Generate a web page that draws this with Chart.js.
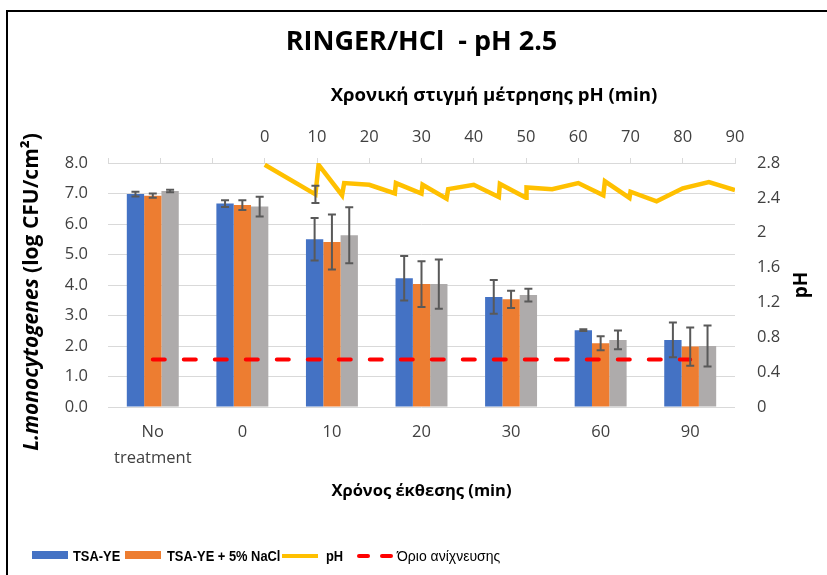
<!DOCTYPE html>
<html>
<head>
<meta charset="utf-8">
<script src="https://cdn.jsdelivr.net/npm/chart.js@4"></script>
<style>
  html, body { margin: 0; padding: 0; background: #fff; width: 827px; height: 575px; overflow: hidden; }
  .layer { position: absolute; left: 0; top: 0; width: 827px; height: 575px; }
  #frame { position: absolute; left: 6px; top: 10px; width: 900px; height: 700px; border: 2px solid #000; pointer-events: none; }
  .lg { position: absolute; }
  .lg-box { height: 8px; width: 36px; top: 551px; }
  .lg-text { top: 546px; line-height: 20px; font-family: "Liberation Sans", Arial, sans-serif; font-size: 14px; color: #000; white-space: nowrap; transform-origin: left center; }
  .lg-text.b { font-weight: bold; transform: scaleX(0.92); }
</style>
</head>
<body>
<!-- bars, detection limit and bottom/left axes -->
<div class="layer"><canvas id="counts" width="827" height="575"></canvas></div>
<!-- pH trace with its own top/right axes, laid over the same plot area -->
<div class="layer"><canvas id="ph" width="827" height="575"></canvas></div>

<!-- legend -->
<div class="lg lg-box" style="left:32px;background:#4472C4"></div>
<div class="lg lg-text b" style="left:73px">TSA-YE</div>
<div class="lg lg-box" style="left:125px;background:#ED7D31"></div>
<div class="lg lg-text b" style="left:167px">TSA-YE + 5% NaCl</div>
<div class="lg" style="left:282px;top:554px;width:36px;height:4px;background:#FFC000"></div>
<div class="lg lg-text b" style="left:326px">pH</div>
<div class="lg" style="left:357px;top:554px;width:13px;height:4px;background:#FF0000;border-radius:2px"></div>
<div class="lg" style="left:380px;top:554px;width:13px;height:4px;background:#FF0000;border-radius:2px"></div>
<div class="lg lg-text" style="left:397px">Όριο ανίχνευσης</div>

<div id="frame"></div>

<script>
// Exposure times (bottom axis)
const categories = [['No', 'treatment'], '0', '10', '20', '30', '60', '90'];

// log CFU/cm² per medium, with standard deviations
const tsaYe      = [6.98, 6.67, 5.50, 4.22, 3.61, 2.52, 2.20];
const tsaYeErr   = [0.08, 0.11, 0.70, 0.73, 0.55, 0.03, 0.57];
const tsaNaCl    = [6.93, 6.62, 5.41, 4.03, 3.53, 2.09, 1.98];
const tsaNaClErr = [0.07, 0.16, 0.90, 0.75, 0.28, 0.23, 0.63];
const series3    = [7.08, 6.57, 5.63, 4.03, 3.67, 2.20, 2.00];
const series3Err = [0.04, 0.32, 0.92, 0.81, 0.21, 0.31, 0.67];

// Detection limit (log CFU/cm²)
const detectionLimit = 1.56;

// pH readings over time (top axis, min)
const phTime   = [0, 9.7, 10.3, 14.8, 15.2, 20, 24.9, 25.1, 30, 30.2, 34.8, 35.1, 40, 44.8, 45, 50, 50.1, 55, 60, 64.8, 65.1, 69.8, 70, 75, 80, 85, 90];
const phValues = [2.78, 2.44, 2.78, 2.43, 2.57, 2.55, 2.45, 2.57, 2.45, 2.55, 2.39, 2.50, 2.55, 2.41, 2.56, 2.40, 2.52, 2.50, 2.57, 2.43, 2.59, 2.40, 2.47, 2.36, 2.51, 2.58, 2.49];
const phErr    = [0, 0.10, 0, 0, 0, 0, 0, 0, 0, 0, 0, 0, 0, 0, 0, 0, 0, 0, 0, 0, 0, 0, 0, 0, 0, 0, 0];

// Axis ranges
const countAxis = { min: 0, max: 8, step: 1 };
const phAxis    = { min: 0, max: 2.8, step: 0.4 };
const timeAxis  = { min: -30, max: 90, step: 10 };

const mainTitle       = 'RINGER/HCl  - pH 2.5';
const topTitle        = 'Χρονική στιγμή μέτρησης pH (min)';
const bottomTitle     = 'Χρόνος έκθεσης (min)';
const leftTitleItalic = 'L.monocytogenes';
const leftTitleRest   = ' (log CFU/cm²)';
const rightTitle      = 'pH';

const FAM = '"Open Sans", sans-serif';
const tickColor = '#404040';
const gridColor = '#D9D9D9';
const tickFont = { family: FAM, size: 16.5 };

// Shared frame: both canvases put the plot area at the same place
const TITLE_BLOCK = 54.5;   // main title band
const TOP_AXIS = 108.5;     // top axis band
const BOTTOM_AXIS = 120;    // category labels + title
const LEGEND_BAND = 48;
const LEFT_PAD = 15;
const LEFT_AXIS = 93;
const RIGHT_AXIS = 92;

// Error whiskers for any dataset carrying an `errors` array
const errorBars = {
  id: 'errorBars',
  afterDatasetsDraw(chart) {
    const ctx = chart.ctx;
    const cap = 4;
    ctx.save();
    ctx.strokeStyle = '#595959';
    ctx.lineWidth = 2;
    const draw = (x, yA, yB) => {
      ctx.beginPath();
      ctx.moveTo(x, yA); ctx.lineTo(x, yB);
      ctx.moveTo(x - cap, yA); ctx.lineTo(x + cap, yA);
      ctx.moveTo(x - cap, yB); ctx.lineTo(x + cap, yB);
      ctx.stroke();
    };
    chart.data.datasets.forEach((ds, di) => {
      if (!ds.errors) return;
      const meta = chart.getDatasetMeta(di);
      const ys = chart.scales[meta.yAxisID];
      meta.data.forEach((el, i) => {
        const e = ds.errors[i];
        if (!e) return;
        const v = typeof ds.data[i] === 'object' ? ds.data[i].y : ds.data[i];
        draw(el.x, ys.getPixelForValue(v + e), ys.getPixelForValue(v - e));
      });
    });
    ctx.restore();
  }
};

// Titles drawn by hand: the left one mixes italic and upright text,
// the top-axis one sits right of the plot centre
const chartTitles = {
  id: 'chartTitles',
  afterDraw(chart) {
    const ctx = chart.ctx;
    const area = chart.chartArea;
    const cy = (area.top + area.bottom) / 2;

    ctx.save();
    ctx.fillStyle = '#000';
    ctx.textBaseline = 'middle';
    ctx.textAlign = 'center';
    ctx.font = 'bold 27px ' + FAM;
    ctx.fillText(mainTitle, 421.5, 42);
    ctx.font = 'bold 18.6px ' + FAM;
    ctx.fillText(topTitle, 494, 96);
    ctx.restore();

    ctx.save();
    ctx.fillStyle = '#000';
    ctx.textBaseline = 'middle';
    ctx.textAlign = 'left';
    ctx.translate(32, cy + 7);
    ctx.rotate(-Math.PI / 2);
    const fItalic = 'italic bold 21px ' + FAM;
    const fUp = 'bold 21px ' + FAM;
    ctx.font = fItalic; const w1 = ctx.measureText(leftTitleItalic).width;
    ctx.font = fUp; const w2 = ctx.measureText(leftTitleRest).width;
    const x0 = -(w1 + w2) / 2;
    ctx.font = fItalic; ctx.fillText(leftTitleItalic, x0, 0);
    ctx.font = fUp; ctx.fillText(leftTitleRest, x0 + w1, 0);
    ctx.restore();

    ctx.save();
    ctx.fillStyle = '#000';
    ctx.textBaseline = 'middle';
    ctx.textAlign = 'center';
    ctx.translate(802, cy);
    ctx.rotate(-Math.PI / 2);
    ctx.font = 'bold 19px ' + FAM;
    ctx.fillText(rightTitle, 0, 0);
    ctx.restore();
  }
};

// Counts: grouped bars + detection limit
new Chart(document.getElementById('counts'), {
  type: 'bar',
  data: {
    labels: categories,
    datasets: [
      { label: 'TSA-YE', data: tsaYe, errors: tsaYeErr, backgroundColor: '#4472C4', order: 5 },
      { label: 'TSA-YE + 5% NaCl', data: tsaNaCl, errors: tsaNaClErr, backgroundColor: '#ED7D31', order: 5 },
      { label: 'Series 3', data: series3, errors: series3Err, backgroundColor: '#AEABAB', order: 5 },
      {
        type: 'line', label: 'Όριο ανίχνευσης', order: 1,
        data: categories.map(() => detectionLimit),
        borderColor: '#FF0000', borderWidth: 4, borderDash: [12, 19], borderCapStyle: 'round',
        pointRadius: 0, fill: false
      }
    ]
  },
  options: {
    responsive: false,
    animation: false,
    devicePixelRatio: 1,
    layout: { padding: { left: LEFT_PAD, right: RIGHT_AXIS, top: TITLE_BLOCK + TOP_AXIS, bottom: LEGEND_BAND } },
    datasets: { bar: { categoryPercentage: 0.58, barPercentage: 1, borderWidth: 0 } },
    plugins: {
      legend: { display: false },
      tooltip: { enabled: false },
      title: { display: false }
    },
    scales: {
      x: {
        type: 'category',
        position: 'bottom',
        offset: true,
        grid: { display: false, drawTicks: false },
        border: { display: false },
        ticks: { color: tickColor, font: { ...tickFont, lineHeight: 1.6 }, padding: 12, maxRotation: 0, autoSkip: false },
        title: { display: true, text: bottomTitle, color: '#000', font: { family: FAM, size: 16.5, weight: 'bold', lineHeight: 1.2 }, padding: { top: 0, bottom: 26 } },
        afterFit(s) { s.height = BOTTOM_AXIS; }
      },
      y: {
        type: 'linear',
        position: 'left',
        min: countAxis.min, max: countAxis.max,
        grid: { color: gridColor, lineWidth: 1, drawTicks: false },
        border: { display: false },
        ticks: { stepSize: countAxis.step, color: tickColor, font: tickFont, padding: 20, callback: v => Number(v).toFixed(1) },
        afterFit(s) { s.width = LEFT_AXIS; }
      }
    }
  },
  plugins: [errorBars, chartTitles]
});

// pH trace on the top time axis and right pH axis
new Chart(document.getElementById('ph'), {
  type: 'line',
  data: {
    datasets: [
      {
        label: 'pH', xAxisID: 'x2', yAxisID: 'y2',
        data: phTime.map((t, i) => ({ x: t, y: phValues[i] })),
        errors: phErr,
        borderColor: '#FFC000', borderWidth: 4.5, pointRadius: 0, tension: 0,
        borderJoinStyle: 'miter', fill: false
      }
    ]
  },
  options: {
    responsive: false,
    animation: false,
    devicePixelRatio: 1,
    layout: { padding: { left: LEFT_PAD + LEFT_AXIS, right: 0, top: TITLE_BLOCK, bottom: LEGEND_BAND + BOTTOM_AXIS } },
    plugins: { legend: { display: false }, tooltip: { enabled: false }, title: { display: false } },
    scales: {
      x2: {
        type: 'linear',
        axis: 'x',
        position: 'top',
        offset: false,
        min: timeAxis.min, max: timeAxis.max,
        grid: { offset: false, drawOnChartArea: false, drawTicks: true, tickLength: 5, color: gridColor },
        border: { display: true, color: gridColor },
        ticks: {
          stepSize: timeAxis.step, autoSkip: false, maxRotation: 0, color: tickColor, font: { ...tickFont, lineHeight: 1.2 }, padding: 11,
          callback: v => (v < 0 ? '' : String(v))
        },
        afterFit(s) { s.height = TOP_AXIS; }
      },
      y2: {
        type: 'linear',
        axis: 'y',
        position: 'right',
        min: phAxis.min, max: phAxis.max,
        grid: { display: false, drawTicks: false },
        border: { display: false },
        ticks: { stepSize: phAxis.step, color: tickColor, font: tickFont, padding: 22, callback: v => String(Number(Number(v).toFixed(1))) },
        afterFit(s) { s.width = RIGHT_AXIS; }
      }
    }
  },
  plugins: [errorBars]
});
</script>
</body>
</html>
